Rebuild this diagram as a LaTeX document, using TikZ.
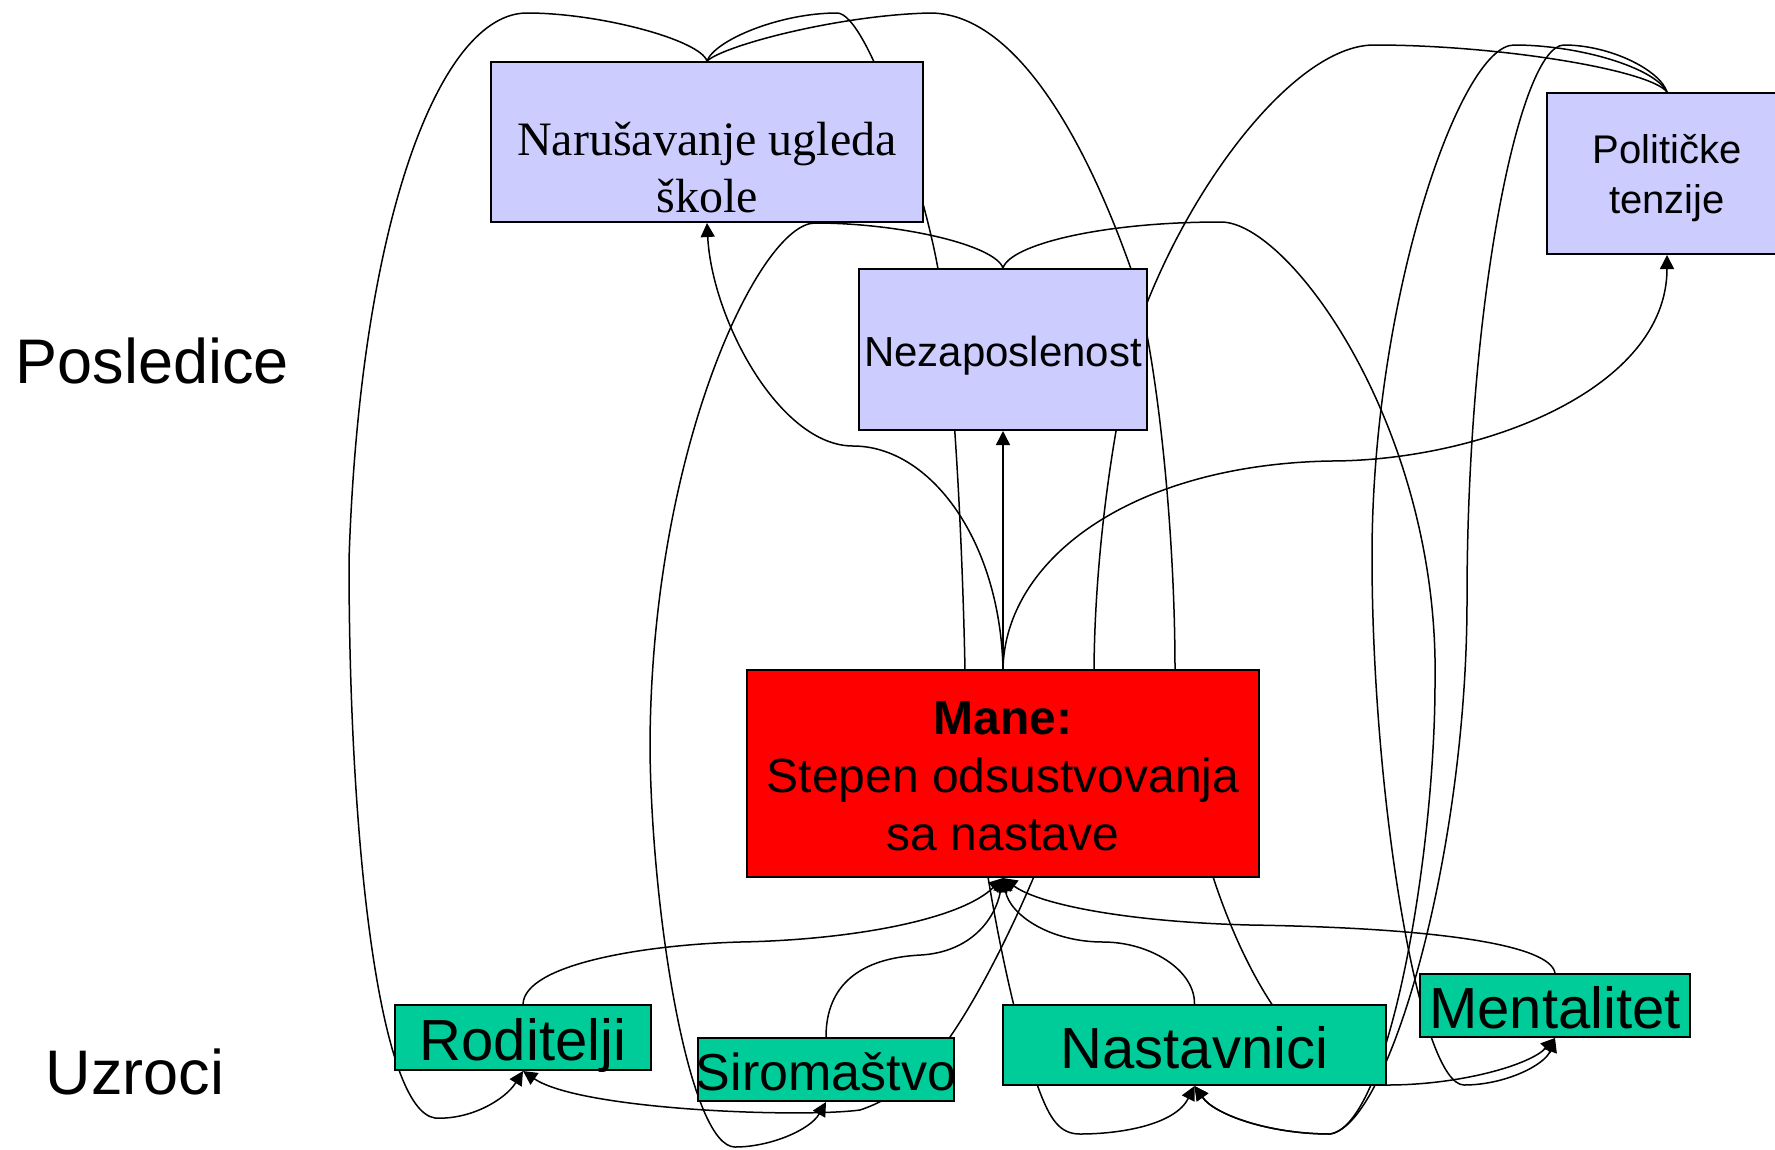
\documentclass[tikz,border=0pt]{standalone}
\usepackage{fontspec}
\setmainfont{Liberation Sans}
\newfontfamily\timesfont{Liberation Serif}
\usetikzlibrary{arrows.meta,backgrounds}
\tikzset{>={Triangle[length=14pt,width=14pt]}}
\definecolor{lila}{HTML}{CCCCFF}
\definecolor{zelena}{HTML}{00CC99}

\begin{document}
\begin{tikzpicture}[x=1pt,y=-1pt,line width=1.5pt,
    box/.style={draw,line width=2pt,inner sep=0pt,align=center},
    posledica/.style={box,fill=lila},
    uzrok/.style={box,fill=zelena,font=\fontsize{58}{70}\selectfont,
      text height=45pt,text depth=0pt,minimum width=256pt},
    veza/.style={->,line width=1.5pt}]
  \useasboundingbox (0,0) rectangle (1775,1149);
  % labels
  \node[anchor=base west,inner sep=0pt,font=\fontsize{63}{75}\selectfont] (posl) at (15,383) {Posledice};
  \node[anchor=base west,inner sep=0pt,font=\fontsize{63}{75}\selectfont] (uzr) at (45,1094) {Uzroci};
  % posledice
  \node[posledica,minimum width=432pt,minimum height=160pt,
    font=\timesfont\fontsize{48}{57}\selectfont,text height=140pt,text depth=0pt]
    (skola) at (707,142) {Narušavanje ugleda\\škole};
  \node[posledica,minimum width=288pt,minimum height=161pt,
    font=\fontsize{42}{50}\selectfont,text height=33pt,text depth=0pt]
    (nezap) at (1003,349.5) {Nezaposlenost};
  \node[posledica,minimum width=240pt,minimum height=161pt,
    font=\fontsize{40}{50}\selectfont,text height=79pt,text depth=0pt]
    (polit) at (1667,173.5) {Političke\\tenzije};
  % mane
  \node[box,fill=red,minimum width=512pt,minimum height=207pt,
    font=\fontsize{48}{58}\selectfont,text height=153pt,text depth=0pt]
    (mane) at (1003,773.5) {\textbf{Mane:}\\Stepen odsustvovanja\\sa nastave};
  % uzroci
  \node[uzrok,minimum height=65pt] (rod) at (523,1037.5) {Roditelji};
  \node[uzrok,minimum height=63pt,text height=41pt,font=\fontsize{52}{62}\selectfont] (sir) at (826,1069.5) {\makebox[0pt]{Siromaštvo}};
  \node[uzrok,minimum width=383pt,minimum height=80pt,text height=46pt] (nast) at (1194.5,1045) {Nastavnici};
  \node[uzrok,minimum width=270pt,minimum height=63pt] (ment) at (1555,1005.5) {Mentalitet};

  \begin{pgfonlayer}{background}
  % Mane -> posledice
  \draw[veza] (mane.north) -- (nezap.south);
  \draw[veza] (mane.north) .. controls (1000,540) and (930,446) .. (853,446)
    .. controls (780,446) and (712,320) .. (skola.south);
  \draw[veza] (mane.north) .. controls (1005,560) and (1130,465) .. (1330,461)
    .. controls (1480,461) and (1667,390) .. (polit.south);
  % uzroci -> Mane
  \draw[veza] (rod.north) .. controls (525,965) and (640,945) .. (740,942)
    .. controls (850,940) and (960,920) .. (mane.south);
  \draw[veza] (sir.north) .. controls (826,985) and (860,958) .. (921,955)
    .. controls (970,952) and (995,920) .. (mane.south);
  \draw[veza] (nast.north) .. controls (1195,970) and (1150,942) .. (1103,942)
    .. controls (1050,942) and (1010,915) .. (mane.south);
  \draw[veza] (ment.north) .. controls (1550,945) and (1440,928) .. (1250,925)
    .. controls (1130,922) and (1040,905) .. (mane.south);
  % Narusavanje ugleda -> uzroci
  \draw[veza] (skola.north) .. controls (700,40) and (600,13) .. (527,13)
    .. controls (440,13) and (360,220) .. (349,560)
    .. controls (349,850) and (380,1110) .. (435,1118)
    .. controls (470,1120) and (505,1100) .. (rod.south);
  \draw[veza] (skola.north) .. controls (715,40) and (780,13) .. (837,13)
    .. controls (868,13) and (924,189) .. (938,269)
    .. controls (952,350) and (962,520) .. (965,670)
    .. controls (970,800) and (1005,1000) .. (1038,1087)
    .. controls (1050,1120) and (1060,1134) .. (1080,1134)
    .. controls (1120,1134) and (1175,1125) .. (nast.south);
  \draw[veza] (skola.north) .. controls (725,45) and (840,15) .. (930,13)
    .. controls (1010,13) and (1080,125) .. (1131,269)
    .. controls (1155,340) and (1175,520) .. (1175,670)
    .. controls (1178,820) and (1260,1085) .. (1387,1085)
    .. controls (1460,1085) and (1530,1065) .. (ment.south);
  % Politicke tenzije -> uzroci
  \draw[veza] (polit.north) .. controls (1650,70) and (1500,45) .. (1374,45)
    .. controls (1300,45) and (1200,170) .. (1147,303)
    .. controls (1125,360) and (1095,520) .. (1094,670)
    .. controls (1090,760) and (1010,950) .. (950,1037)
    .. controls (920,1080) and (890,1100) .. (860,1110)
    .. controls (800,1118) and (580,1110) .. (rod.south);
  \draw[veza] (polit.north) .. controls (1660,70) and (1610,45) .. (1564,45)
    .. controls (1520,45) and (1467,300) .. (1467,600)
    .. controls (1467,850) and (1390,1125) .. (1330,1134)
    .. controls (1270,1134) and (1215,1115) .. (nast.south);
  \draw[veza] (polit.north) .. controls (1655,68) and (1580,45) .. (1514,45)
    .. controls (1460,45) and (1372,300) .. (1372,556)
    .. controls (1372,800) and (1420,1085) .. (1464,1085)
    .. controls (1505,1085) and (1545,1065) .. (ment.south);
  % Nezaposlenost -> uzroci
  \draw[veza] (nezap.north) .. controls (1010,245) and (1100,222) .. (1221,222)
    .. controls (1290,222) and (1440,430) .. (1435,683)
    .. controls (1435,850) and (1390,1125) .. (1330,1134)
    .. controls (1270,1134) and (1215,1115) .. (nast.south);
  \draw[veza] (nezap.north) .. controls (995,245) and (900,223) .. (815,223)
    .. controls (760,223) and (650,450) .. (650,750)
    .. controls (652,920) and (690,1147) .. (735,1147)
    .. controls (770,1147) and (810,1130) .. (sir.south);
  \end{pgfonlayer}
\end{tikzpicture}
\end{document}
